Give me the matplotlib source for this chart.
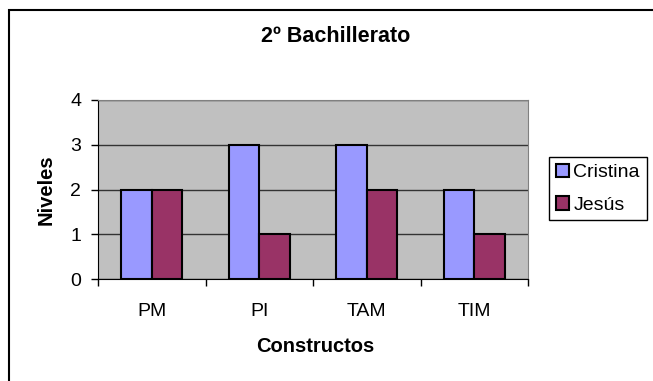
import matplotlib
matplotlib.use("Agg")
import matplotlib.pyplot as plt
from matplotlib.patches import Rectangle
import numpy as np

plt.rcParams['font.family'] = ['Liberation Sans', 'DejaVu Sans']

categorias = ["PM", "PI", "TAM", "TIM"]
cristina = [2, 3, 3, 2]
jesus = [2, 1, 2, 1]
series = ["Cristina", "Jesús"]

fig = plt.figure(figsize=(6.53, 3.81), dpi=100)
fig.patch.set_facecolor("white")

# outer chart border (right and bottom run off the picture)
fig.patches.append(Rectangle((9/653, -0.05), 1.0, 0.9738 + 0.05,
                             transform=fig.transFigure, fill=False,
                             edgecolor="black", linewidth=1.5))

ax = fig.add_axes([98/653, 102/381, 430/653, 179/381])
ax.set_facecolor("#C0C0C0")

x = np.arange(len(categorias))
w = 0.2857
ax.bar(x - w/2, cristina, w, color="#9999FF", edgecolor="black", linewidth=1.5, label=series[0], zorder=3)
ax.bar(x + w/2, jesus, w, color="#993366", edgecolor="black", linewidth=1.5, label=series[1], zorder=3)

ax.set_xlim(-0.5, 3.5)
ax.set_ylim(0, 4)
ax.set_yticks([0, 1, 2, 3, 4])
ax.yaxis.grid(True, color="#333333", linewidth=1.0, zorder=1)
ax.tick_params(axis="y", direction="out", length=5, width=1, labelsize=14, pad=7)

ax.set_xticks(np.arange(-0.5, 4, 1))
ax.set_xticklabels([])
ax.tick_params(axis="x", which="major", direction="out", length=5, width=1)
ax.set_xticks(x, minor=True)
ax.set_xticklabels(categorias, minor=True, fontsize=14)
ax.tick_params(axis="x", which="minor", length=0, pad=17)

for s in ["top", "right"]:
    ax.spines[s].set_color("#808080")
for s in ["left", "bottom"]:
    ax.spines[s].set_color("black")

fig.text(46/653, 1 - 190/381, "Niveles", rotation=90, ha="center", va="center",
         fontsize=14.5, fontweight="bold")
fig.text(315/653, 1 - 347/381, "Constructos", ha="center", va="center",
         fontsize=14.5, fontweight="bold")
fig.text(336/653, 1 - 37/381, "2º Bachillerato", ha="center", va="center",
         fontsize=15.5, fontweight="bold")

leg = ax.legend(loc="upper left", bbox_to_anchor=(549/653, 1 - 157/381),
                bbox_transform=fig.transFigure, fancybox=False, framealpha=1,
                edgecolor="black", fontsize=14, handlelength=0.7, handleheight=0.7,
                handletextpad=0.2, borderpad=0.35, labelspacing=0.75, borderaxespad=0)
leg.get_frame().set_linewidth(1.0)

fig.savefig("out.png", dpi=100)
